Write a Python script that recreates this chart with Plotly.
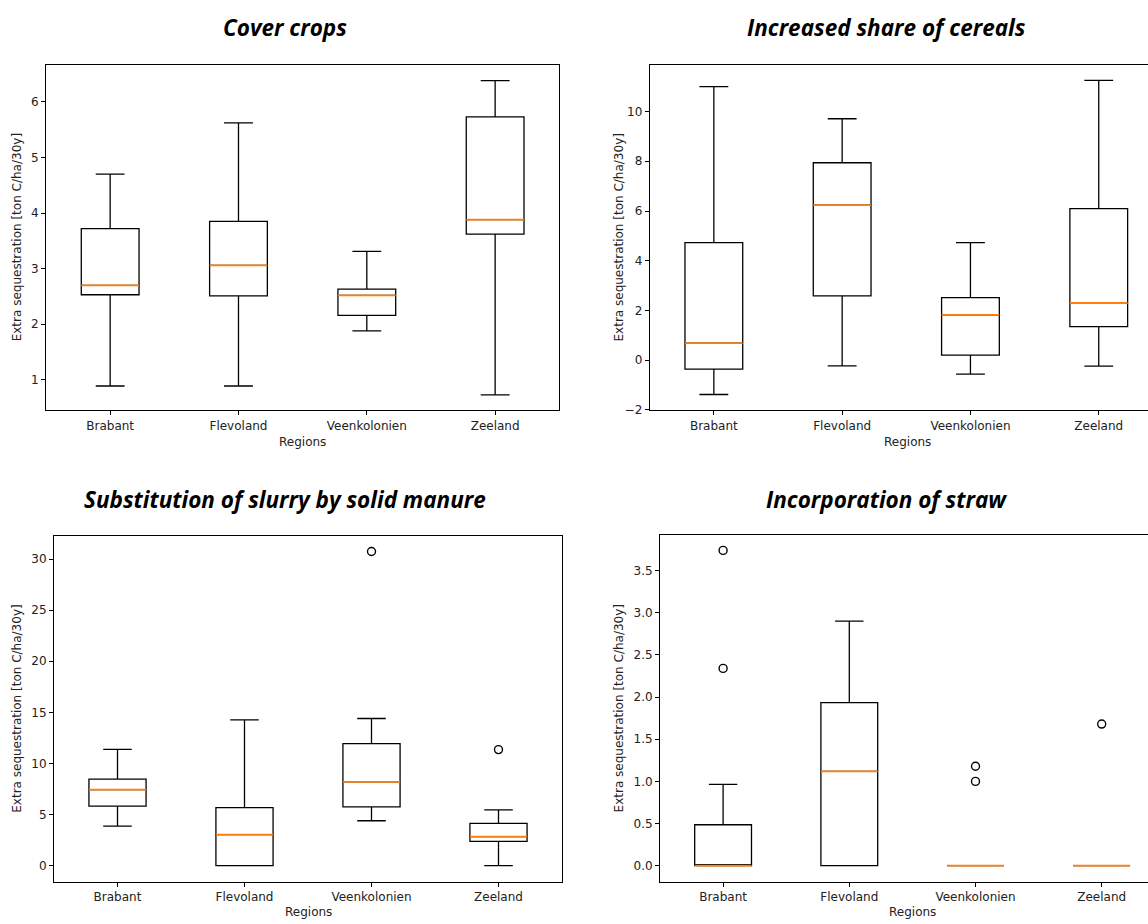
import plotly.graph_objects as go

# ---- data -------------------------------------------------------------
regions = ["Brabant", "Flevoland", "Veenkolonien", "Zeeland"]

# Cover crops
cover_lower = [0.89, 0.89, 1.88, 0.73]
cover_q1 = [2.53, 2.51, 2.16, 3.62]
cover_median = [2.70, 3.06, 2.52, 3.88]
cover_q3 = [3.72, 3.85, 2.63, 5.73]
cover_upper = [4.70, 5.62, 3.31, 6.38]
cover_out_region = []
cover_out_value = []

# Increased share of cereals
cereal_lower = [-1.38, -0.23, -0.56, -0.24]
cereal_q1 = [-0.36, 2.59, 0.20, 1.35]
cereal_median = [0.69, 6.24, 1.82, 2.30]
cereal_q3 = [4.73, 7.94, 2.52, 6.10]
cereal_upper = [11.00, 9.71, 4.73, 11.25]
cereal_out_region = []
cereal_out_value = []

# Substitution of slurry by solid manure
slurry_lower = [3.88, 0.0, 4.40, 0.0]
slurry_q1 = [5.83, 0.0, 5.76, 2.39]
slurry_median = [7.44, 3.04, 8.21, 2.84]
slurry_q3 = [8.48, 5.69, 11.94, 4.14]
slurry_upper = [11.39, 14.27, 14.40, 5.47]
slurry_out_region = ["Veenkolonien", "Zeeland"]
slurry_out_value = [30.74, 11.36]

# Incorporation of straw
straw_lower = [0.0, 0.0, 0.0, 0.0]
straw_q1 = [0.0, 0.0, 0.0, 0.0]
straw_median = [0.0, 1.118, 0.0, 0.0]
straw_q3 = [0.486, 1.934, 0.0, 0.0]
straw_upper = [0.965, 2.90, 0.0, 0.0]
straw_out_region = ["Brabant", "Brabant", "Veenkolonien", "Veenkolonien", "Zeeland"]
straw_out_value = [3.74, 2.34, 1.18, 1.00, 1.68]

titles = ["Cover crops", "Increased share of cereals",
          "Substitution of slurry by solid manure", "Incorporation of straw"]
y_label = "Extra sequestration [ton C/ha/30y]"
x_label = "Regions"

# ---- layout geometry (pixels) ----------------------------------------
W, H = 1148, 924
BOX_W = 0.45
ORANGE = "#ff7f0e"
TICK_FONT = dict(family="DejaVu Sans", size=12, color="#222222")
TITLE_FONT = dict(family="Open Sans", size=22.5, color="#000000")

panels = [
    dict(stats=(cover_lower, cover_q1, cover_median, cover_q3, cover_upper),
         out=(cover_out_region, cover_out_value),
         px=(46, 559.3), py=(65, 413.3), xr=[0.5, 4.5], yr=[0.455, 6.67],
         ticks=[1, 2, 3, 4, 5, 6], fmt="", closed=True,
         title_xy=(284.5, 28), ylab_x=17, xlab_y=445),
    dict(stats=(cereal_lower, cereal_q1, cereal_median, cereal_q3, cereal_upper),
         out=(cereal_out_region, cereal_out_value),
         px=(649.7, 1148), py=(65.3, 413.3), xr=[0.5, 0.5 + (1148 - 649.7) / 128.3],
         yr=[-2.01, 11.88], ticks=[-2, 0, 2, 4, 6, 8, 10], fmt="", closed=False,
         title_xy=(886, 28), ylab_x=619, xlab_y=445, axis_mid=907),
    dict(stats=(slurry_lower, slurry_q1, slurry_median, slurry_q3, slurry_upper),
         out=(slurry_out_region, slurry_out_value),
         px=(54, 562), py=(540, 888.3), xr=[0.5, 4.5], yr=[-1.55, 32.26],
         ticks=[0, 5, 10, 15, 20, 25, 30], fmt="", closed=True,
         title_xy=(284.5, 503), ylab_x=17, xlab_y=919),
    dict(stats=(straw_lower, straw_q1, straw_median, straw_q3, straw_upper),
         out=(straw_out_region, straw_out_value),
         px=(660, 1148), py=(539.3, 888.3), xr=[0.5, 0.5 + (1148 - 660) / 126.2],
         yr=[-0.188, 3.92], ticks=[0, 0.5, 1, 1.5, 2, 2.5, 3, 3.5], fmt=".1f",
         closed=False, title_xy=(886, 503), ylab_x=619, xlab_y=919, axis_mid=912),
]

positions = list(range(1, len(regions) + 1))
pos_of = dict(zip(regions, positions))

fig = go.Figure()
layout = dict(width=W, height=H, margin=dict(l=0, r=0, t=0, b=0),
              paper_bgcolor="white", plot_bgcolor="white", showlegend=False)
annotations = []

for i, p in enumerate(panels, start=1):
    xa = "x" if i == 1 else f"x{i}"
    ya = "y" if i == 1 else f"y{i}"
    lower, q1, med, q3, upper = p["stats"]

    fig.add_trace(go.Box(
        x=positions, q1=q1, median=med, q3=q3,
        lowerfence=lower, upperfence=upper,
        width=BOX_W, whiskerwidth=0.5, boxpoints=False,
        line=dict(color="black", width=1.3), fillcolor="rgba(0,0,0,0)",
        xaxis=xa, yaxis=ya, hoverinfo="skip"))

    # orange median segments drawn over the boxes
    mx, my = [], []
    for xpos, m in zip(positions, med):
        mx += [xpos - BOX_W / 2, xpos + BOX_W / 2, None]
        my += [m, m, None]
    fig.add_trace(go.Scatter(x=mx, y=my, mode="lines",
                             line=dict(color=ORANGE, width=1.8),
                             xaxis=xa, yaxis=ya, hoverinfo="skip"))

    out_r, out_v = p["out"]
    if out_r:
        fig.add_trace(go.Scatter(
            x=[pos_of[r] for r in out_r], y=out_v, mode="markers",
            marker=dict(symbol="circle-open", size=8, color="black",
                        line=dict(width=1.4, color="black")),
            xaxis=xa, yaxis=ya, hoverinfo="skip"))

    x0, x1 = p["px"]
    ytop, ybot = p["py"]
    key_x = "xaxis" if i == 1 else f"xaxis{i}"
    key_y = "yaxis" if i == 1 else f"yaxis{i}"
    layout[key_x] = dict(
        domain=[x0 / W, x1 / W], anchor=ya, range=p["xr"],
        tickmode="array", tickvals=positions, ticktext=regions,
        showline=True, linecolor="black", linewidth=1, mirror=True,
        ticks="outside", ticklen=4, tickcolor="black", tickwidth=1,
        showgrid=False, zeroline=False, tickfont=TICK_FONT)
    layout[key_y] = dict(
        domain=[1 - ybot / H, 1 - ytop / H], anchor=xa, range=p["yr"],
        tickmode="array", tickvals=p["ticks"], tickformat=p["fmt"],
        showline=True, linecolor="black", linewidth=1, mirror=p["closed"],
        ticks="outside", ticklen=4, tickcolor="black", tickwidth=1,
        showgrid=False, zeroline=False, tickfont=TICK_FONT)

    tx, ty = p["title_xy"]
    annotations.append(dict(
        text=f"<b><i>{titles[i - 1]}</i></b>", x=tx / W, y=1 - ty / H,
        xref="paper", yref="paper", xanchor="center", yanchor="middle",
        showarrow=False, font=TITLE_FONT))
    annotations.append(dict(
        text=y_label, x=p["ylab_x"] / W, y=1 - (ytop + ybot) / 2 / H,
        xref="paper", yref="paper", xanchor="center", yanchor="middle",
        textangle=-90, showarrow=False, font=TICK_FONT))
    mid = p.get("axis_mid", (x0 + x1) / 2)
    annotations.append(dict(
        text=x_label, x=mid / W, y=1 - p["xlab_y"] / H,
        xref="paper", yref="paper", xanchor="center", yanchor="middle",
        showarrow=False, font=TICK_FONT))

layout["annotations"] = annotations
fig.update_layout(**layout)
fig.write_html("out.html")
